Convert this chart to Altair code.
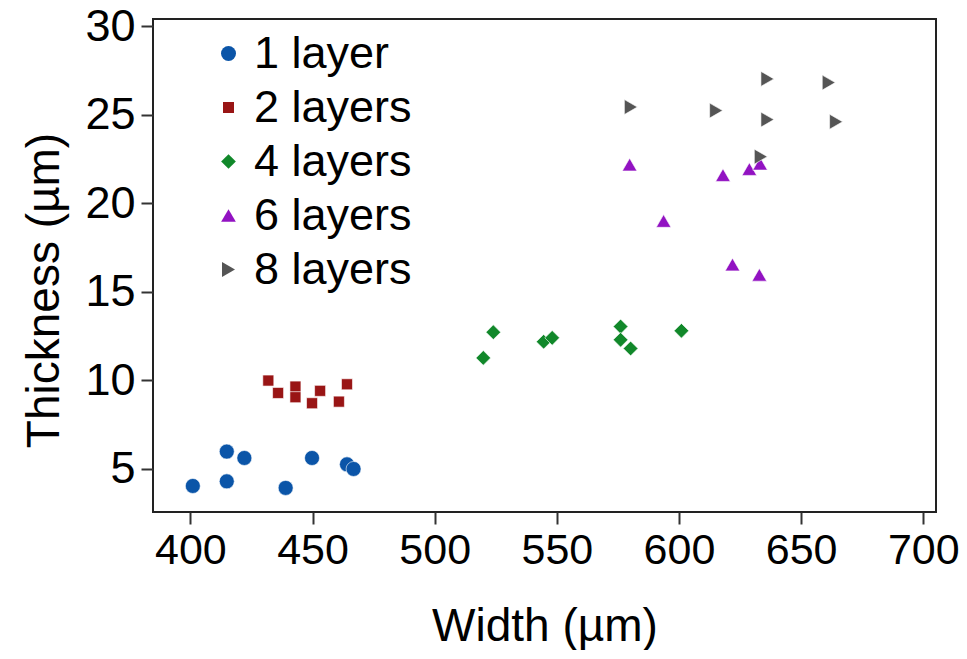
import altair as alt
import pandas as pd

series_names = ["1 layer", "2 layers", "4 layers", "6 layers", "8 layers"]
series_shapes = ["circle", "square", "diamond", "triangle-up", "triangle-right"]
series_colors = ["#0b55a8", "#991515", "#11882a", "#9212c2", "#555555"]
series_sizes = [225, 121, 216, 216, 225]

x1 = [401, 414.9, 414.9, 422.1, 439, 449.8, 464.1, 466.8]
y1 = [4.04, 5.98, 4.30, 5.62, 3.93, 5.62, 5.26, 5.0]

x2 = [431.9, 435.9, 443, 443, 449.8, 453.1, 460.8, 464.1]
y2 = [9.99, 9.29, 9.65, 9.05, 8.71, 9.41, 8.80, 9.78]

x4 = [524, 519.9, 544.6, 548.1, 576.1, 576.1, 580.2, 601]
y4 = [12.72, 11.27, 12.18, 12.40, 13.04, 12.29, 11.80, 12.80]

x6 = [579.8, 593.7, 618, 628.8, 633.2, 621.9, 632.9]
y6 = [22.18, 19.0, 21.59, 21.93, 22.23, 16.54, 15.96]

x8 = [580.3, 615.2, 636.2, 661.3, 636.2, 664.3, 633.5]
y8 = [25.43, 25.23, 27.02, 26.81, 24.72, 24.60, 22.63]

x_ticks = [400, 450, 500, 550, 600, 650, 700]
y_ticks = [5, 10, 15, 20, 25, 30]

rows = []
for name, xs, ys in zip(series_names, [x1, x2, x4, x6, x8], [y1, y2, y4, y6, y8]):
    for xv, yv in zip(xs, ys):
        rows.append({"Width": xv, "Thickness": yv, "Series": name})
df = pd.DataFrame(rows)

FONT = "Liberation Sans"

chart = alt.Chart(df).mark_point(
    filled=True, opacity=1, stroke="white", strokeWidth=0.6
).encode(
    x=alt.X("Width:Q", scale=alt.Scale(domain=[384.7, 705.2], nice=False, zero=False),
            axis=alt.Axis(values=x_ticks, title="Width (µm)", grid=False,
                          labelFontSize=43, titleFontSize=46, labelFont=FONT, titleFont=FONT,
                          labelColor="black", titleColor="black", titleFontWeight="normal",
                          tickSize=12, tickColor="#333333", tickWidth=2, domain=False,
                          labelPadding=5, titlePadding=32, labelFlush=False)),
    y=alt.Y("Thickness:Q", scale=alt.Scale(domain=[2.57, 30.4], nice=False, zero=False),
            axis=alt.Axis(values=y_ticks, title="Thickness (µm)", grid=False,
                          labelFontSize=45, titleFontSize=46, labelFont=FONT, titleFont=FONT,
                          labelColor="black", titleColor="black", titleFontWeight="normal",
                          tickSize=12, tickColor="#333333", tickWidth=2, domain=False,
                          labelPadding=6, titlePadding=16, titleY=271, labelFlush=False)),
    color=alt.Color("Series:N", scale=alt.Scale(domain=series_names, range=series_colors),
                    legend=alt.Legend(orient="none", legendX=53, legendY=12, title=None,
                                      labelFontSize=45, labelFont=FONT, labelColor="black",
                                      symbolSize=90, labelOffset=3, rowPadding=8,
                                      padding=0, symbolStrokeWidth=0)),
    shape=alt.Shape("Series:N", scale=alt.Scale(domain=series_names, range=series_shapes)),
    size=alt.Size("Series:N", scale=alt.Scale(type="ordinal", domain=series_names, range=series_sizes),
                  legend=None),
).properties(
    width=783, height=493,
    autosize=alt.AutoSizeParams(type="none"),
    padding={"left": 145, "top": 11, "right": 23, "bottom": 138},
).configure_view(
    stroke="#222222", strokeWidth=2
)

chart.save("out.html", embed_options={"renderer": "svg", "actions": False})
